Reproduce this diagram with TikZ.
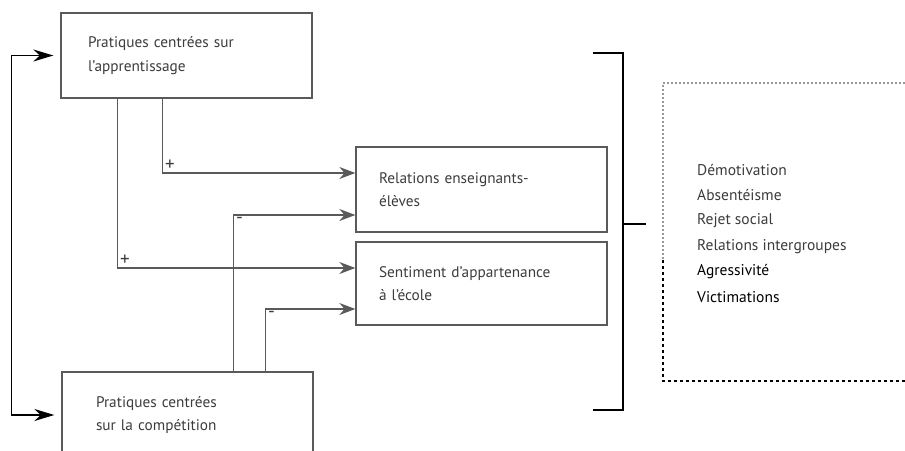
\documentclass[tikz,border=0pt]{standalone}
\usepackage{fontspec}
\setmainfont{PT Sans}
\usepackage{xcolor}
\usepackage{tikz}
\usetikzlibrary{calc,arrows.meta,positioning}
\definecolor{linec}{HTML}{5A5A5A}
\definecolor{txtc}{HTML}{3C3C3C}
\tikzset{
  box/.style={draw=linec,line width=1.3pt,minimum width=251pt,minimum height=85pt,text width=215pt,align=left,inner xsep=0pt,text=txtc,font=\fontsize{15.3}{23.5}\selectfont},
  ar/.style={-{Stealth[length=16pt,width=12pt]},line width=1.3pt,linec},
  lp/.style={{Stealth[length=20pt,width=12pt]}-{Stealth[length=20pt,width=12pt]},line width=1.6pt,black},
  sg/.style={font=\fontsize{19}{19}\selectfont,text=txtc,inner sep=2pt},
  item/.style={anchor=west,inner sep=0pt,font=\fontsize{15.5}{15.5}\selectfont}
}

\begin{document}
\begin{tikzpicture}[x=1pt,y=-1pt]
\clip (0,0) rectangle (905,450);
\node[box,text width=197pt] (A) at (186.5,55.5) {Pratiques centrées sur\\l'apprentissage};
\node[box,text width=183pt,minimum height=86pt] (B) at (187.5,415) {Pratiques centrées\\sur la compétition};
\node[box,text width=205pt] (R) at (481.5,189.5) {Relations enseignants-\\élèves};
\node[box,text width=205pt,minimum height=83pt] (S) at (481.5,283.5) {Sentiment d'appartenance\\à l'école};
% effets des pratiques
\draw[ar] ($(A.south west)+(102,0)$) |- ([yshift=16.5pt]R.west) node[pos=.5,sg,above right]{+};
\draw[ar] ($(A.south west)+(57,0)$) |- ([yshift=15.5pt]S.west) node[pos=.5,sg,above right]{+};
\draw[ar] ($(B.north west)+(172,0)$) |- ([yshift=-25.5pt]R.west) node[pos=.5,sg,below right]{-};
\draw[ar] ($(B.north west)+(204,0)$) |- ([yshift=-25.5pt]S.west) node[pos=.5,sg,below right]{-};
% boucle
\draw[lp,shorten <=7pt,shorten >=7pt] (A.west) -- ++(-49,0) |- (B.west);
% accolade
\draw[line width=1.6pt] (593,53) -- (623,53) -- (623,410) -- (593,410);
\coordinate (brk) at (623,224);
\draw[line width=1.6pt] (brk) -- ++(23,0);
% cadre
\draw[dotted,black!40,line width=2pt] (905,83) -- (663,83) -- (663,260);
\draw[dashed,line width=1.3pt] (663,260) -- (663,381) -- (905,381);
\foreach \t/\c [count=\i] in {Démotivation/txtc,Absentéisme/txtc,Rejet social/txtc,Relations intergroupes/txtc,Agressivité/black,Victimations/black}
  \node[item,text=\c] (L\i) at (697,{170+25.4*(\i-1)}) {\t};
\end{tikzpicture}
\end{document}
